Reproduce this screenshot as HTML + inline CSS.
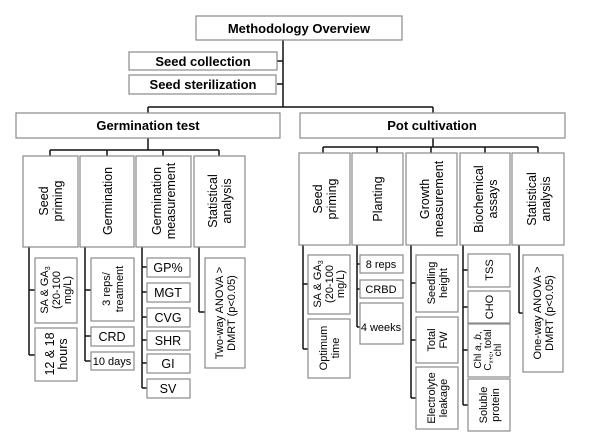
<!DOCTYPE html>
<html><head><meta charset="utf-8"><style>
html,body{margin:0;padding:0;background:#fff;width:609px;height:446px;overflow:hidden}
svg{display:block;font-family:"Liberation Sans",Arial,sans-serif}
.b{fill:#fff;stroke:#8a8a8a;stroke-width:1.2}
.l{stroke:#111;stroke-width:1.5;fill:none}
.h{font-weight:bold;font-size:13px;text-anchor:middle}
.c{font-size:12.5px;text-anchor:middle}
.s{font-size:11px;text-anchor:middle}
</style></head><body>
<svg width="609" height="446" viewBox="0 0 609 446">
<!-- connectors -->
<path class="l" d="M283 40V107M277 61H283M277 84H283M148 107H433M148 107V113M433 107V113"/>
<path class="l" d="M148 138V150M50 150H219M50 150V156M107 150V156M163 150V156M219 150V156"/>
<path class="l" d="M433 138V147M323 147H538M323 147V153M377 147V153M431 147V153M485 147V153M538 147V153"/>
<path class="l" d="M29 247V355M29 290H35M29 355H35"/>
<path class="l" d="M85 247V361M85 290H91M85 336H91M85 361H91"/>
<path class="l" d="M142 247V388M142 267H147M142 292H147M142 317H147M142 340H147M142 363H147M142 388H147"/>
<path class="l" d="M199 247V312M199 312H205"/>
<path class="l" d="M303 245V349M303 284H308M303 349H308"/>
<path class="l" d="M357 245V327M357 264H360M357 289H360M357 327H360"/>
<path class="l" d="M411 245V398M411 283H416M411 340H416M411 398H416"/>
<path class="l" d="M463 245V405M463 270H468M463 307H468M463 350H468M463 405H468"/>
<path class="l" d="M519 245V313M519 313H523"/>
<!-- top boxes -->
<rect class="b" x="196" y="16" width="206" height="24"/><text class="h" x="299" y="33">Methodology Overview</text>
<rect class="b" x="129" y="52" width="148" height="18"/><text class="h" x="203" y="66">Seed collection</text>
<rect class="b" x="129" y="75" width="147" height="19"/><text class="h" x="203" y="89">Seed sterilization</text>
<rect class="b" x="16" y="113" width="264" height="25"/><text class="h" x="148" y="130">Germination test</text>
<rect class="b" x="300" y="113" width="265" height="25"/><text class="h" x="432" y="130">Pot cultivation</text>
<!-- germination categories -->
<rect class="b" x="23" y="156" width="55" height="91"/><text class="c" transform="translate(50,201) rotate(-90)"><tspan x="0" y="-2">Seed</tspan><tspan x="0" y="12">priming</tspan></text>
<rect class="b" x="80" y="156" width="54" height="91"/><text class="c" transform="translate(107,201) rotate(-90)"><tspan x="0" y="5">Germination</tspan></text>
<rect class="b" x="136" y="156" width="55" height="91"/><text class="c" transform="translate(163,201) rotate(-90)"><tspan x="0" y="-2">Germination</tspan><tspan x="0" y="12">measurement</tspan></text>
<rect class="b" x="194" y="156" width="51" height="91"/><text class="c" transform="translate(219,201) rotate(-90)"><tspan x="0" y="-2">Statistical</tspan><tspan x="0" y="12">analysis</tspan></text>
<!-- pot categories -->
<rect class="b" x="299" y="153" width="51" height="92"/><text class="c" transform="translate(324,199) rotate(-90)"><tspan x="0" y="-2">Seed</tspan><tspan x="0" y="12">priming</tspan></text>
<rect class="b" x="352" y="153" width="51" height="92"/><text class="c" transform="translate(377,199) rotate(-90)"><tspan x="0" y="5">Planting</tspan></text>
<rect class="b" x="406" y="153" width="51" height="92"/><text class="c" transform="translate(431,199) rotate(-90)"><tspan x="0" y="-2">Growth</tspan><tspan x="0" y="12">measurement</tspan></text>
<rect class="b" x="460" y="153" width="50" height="92"/><text class="c" transform="translate(485,199) rotate(-90)"><tspan x="0" y="-2">Biochemical</tspan><tspan x="0" y="12">assays</tspan></text>
<rect class="b" x="512" y="153" width="52" height="92"/><text class="c" transform="translate(538,199) rotate(-90)"><tspan x="0" y="-2">Statistical</tspan><tspan x="0" y="12">analysis</tspan></text>
<!-- germination leaves -->
<rect class="b" x="35" y="258" width="42" height="65"/><text class="s" transform="translate(56,290) rotate(-90)"><tspan x="0" y="-8">SA &amp; GA<tspan font-size="7" dy="2">3</tspan></tspan><tspan x="0" y="4">(20-100</tspan><tspan x="0" y="15">mg/L)</tspan></text>
<rect class="b" x="35" y="328" width="42" height="53"/><text class="c" transform="translate(56,354) rotate(-90)"><tspan x="0" y="-2">12 &amp; 18</tspan><tspan x="0" y="11">hours</tspan></text>
<rect class="b" x="91" y="258" width="43" height="63"/><text class="s" transform="translate(112,289) rotate(-90)"><tspan x="0" y="-2">3 reps/</tspan><tspan x="0" y="11">treatment</tspan></text>
<rect class="b" x="91" y="327" width="43" height="19"/><text class="c" x="112" y="341">CRD</text>
<rect class="b" x="91" y="352" width="43" height="18"/><text class="s" x="112" y="365">10 days</text>
<rect class="b" x="147" y="258" width="43" height="19"/><text class="c" x="168" y="272">GP%</text>
<rect class="b" x="147" y="283" width="43" height="19"/><text class="c" x="168" y="297">MGT</text>
<rect class="b" x="147" y="308" width="43" height="19"/><text class="c" x="168" y="322">CVG</text>
<rect class="b" x="147" y="331" width="43" height="19"/><text class="c" x="168" y="345">SHR</text>
<rect class="b" x="147" y="354" width="43" height="19"/><text class="c" x="168" y="368">GI</text>
<rect class="b" x="147" y="379" width="43" height="19"/><text class="c" x="168" y="393">SV</text>
<rect class="b" x="205" y="258" width="40" height="110"/><text class="s" transform="translate(225,313) rotate(-90)"><tspan x="0" y="-2">Two-way ANOVA &gt;</tspan><tspan x="0" y="10">DMRT (p&lt;0.05)</tspan></text>
<!-- pot leaves -->
<rect class="b" x="308" y="255" width="42" height="59"/><text class="s" transform="translate(329,284) rotate(-90)"><tspan x="0" y="-8">SA &amp; GA<tspan font-size="7" dy="2">3</tspan></tspan><tspan x="0" y="4">(20-100</tspan><tspan x="0" y="15">mg/L)</tspan></text>
<rect class="b" x="308" y="319" width="42" height="59"/><text class="s" transform="translate(329,348) rotate(-90)"><tspan x="0" y="-2">Optimum</tspan><tspan x="0" y="10">time</tspan></text>
<rect class="b" x="360" y="255" width="43" height="18"/><text class="s" x="381" y="268">8 reps</text>
<rect class="b" x="360" y="280" width="43" height="18"/><text class="s" x="381" y="293">CRBD</text>
<rect class="b" x="360" y="303" width="43" height="41"/><text class="s" x="381" y="331">4 weeks</text>
<rect class="b" x="416" y="255" width="42" height="57"/><text class="s" transform="translate(437,283) rotate(-90)"><tspan x="0" y="-2">Seedling</tspan><tspan x="0" y="10">height</tspan></text>
<rect class="b" x="416" y="317" width="42" height="46"/><text class="s" transform="translate(437,340) rotate(-90)"><tspan x="0" y="-2">Total</tspan><tspan x="0" y="10">FW</tspan></text>
<rect class="b" x="416" y="367" width="42" height="62"/><text class="s" transform="translate(437,398) rotate(-90)"><tspan x="0" y="-2">Electrolyte</tspan><tspan x="0" y="10">leakage</tspan></text>
<rect class="b" x="468" y="254" width="42" height="33"/><text class="s" transform="translate(489,270) rotate(-90)"><tspan x="0" y="4">TSS</tspan></text>
<rect class="b" x="468" y="291" width="42" height="32"/><text class="s" transform="translate(489,307) rotate(-90)"><tspan x="0" y="4">CHO</tspan></text>
<rect class="b" x="468" y="324" width="42" height="53"/><text class="s" font-size="10" transform="translate(489,350) rotate(-90)" style="font-size:10px"><tspan x="0" y="-8">Chl <tspan font-style="italic">a</tspan>, <tspan font-style="italic">b</tspan>,</tspan><tspan x="0" y="2">C<tspan font-size="6" dy="2">x+c</tspan><tspan dy="-2">, total</tspan></tspan><tspan x="0" y="12">chl</tspan></text>
<rect class="b" x="468" y="379" width="42" height="52"/><text class="s" transform="translate(489,405) rotate(-90)"><tspan x="0" y="-2">Soluble</tspan><tspan x="0" y="10">protein</tspan></text>
<rect class="b" x="523" y="255" width="40" height="117"/><text class="s" transform="translate(543,313) rotate(-90)"><tspan x="0" y="-2">One-way ANOVA &gt;</tspan><tspan x="0" y="10">DMRT (p&lt;0.05)</tspan></text>
</svg>
</body></html>
